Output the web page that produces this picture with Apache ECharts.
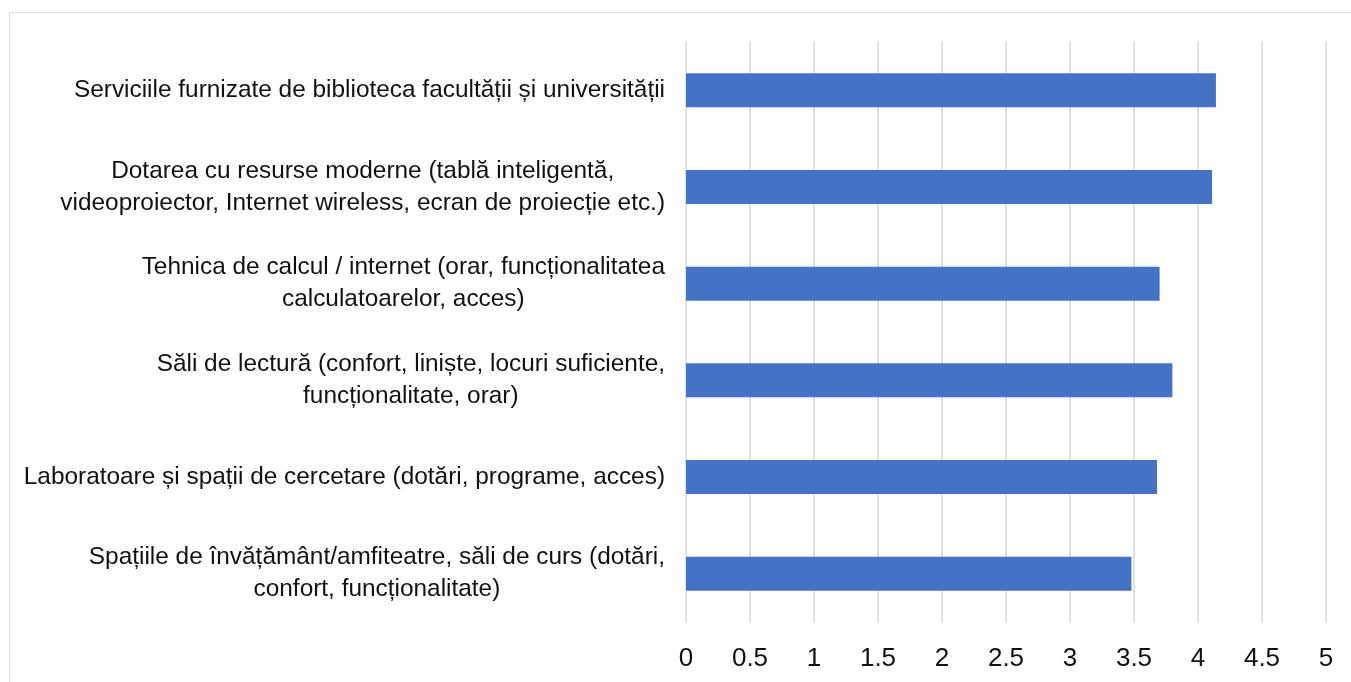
<!DOCTYPE html>
<html>
<head>
<meta charset="utf-8">
<script src="https://cdn.jsdelivr.net/npm/echarts@6/dist/echarts.min.js"></script>
<style>
  html, body { margin: 0; padding: 0; background: #fff; }
  #main { width: 1351px; height: 682px; }
</style>
</head>
<body>
<div id="main"></div>
<script>
// categories, top to bottom as in the picture
var categories = [
  'Serviciile furnizate de biblioteca facultății și universității',
  'Dotarea cu resurse moderne (tablă inteligentă,\nvideoproiector, Internet wireless, ecran de proiecție etc.)',
  'Tehnica de calcul / internet (orar, funcționalitatea\ncalculatoarelor, acces)',
  'Săli de lectură (confort, liniște, locuri suficiente,\nfuncționalitate, orar)',
  'Laboratoare și spații de cercetare (dotări, programe, acces)',
  'Spațiile de învățământ/amfiteatre, săli de curs (dotări,\nconfort, funcționalitate)'
]
var scores = [4.14, 4.11, 3.70, 3.80, 3.68, 3.48]

var font = '"Liberation Sans", Arial, sans-serif'

var myChart = echarts.init(document.getElementById('main'))

myChart.setOption({
  backgroundColor: '#fff',
  animation: false,
  graphic: [
    {
      type: 'rect',
      shape: { x: 9.5, y: 12.5, width: 1400, height: 700 },
      style: { fill: 'none', stroke: '#d9d9d9', lineWidth: 1 },
      silent: true
    }
  ],
  grid: {
    left: 686,
    right: 25,
    top: 42,
    bottom: 60
  },
  xAxis: {
    type: 'value',
    min: 0,
    max: 5,
    interval: 0.5,
    axisLine: { show: false },
    axisTick: { show: false },
    splitLine: { lineStyle: { color: '#d9d9d9', width: 1.5 } },
    axisLabel: {
      margin: 24,
      color: '#111',
      fontFamily: font,
      fontSize: 26
    }
  },
  yAxis: {
    type: 'category',
    data: categories,
    inverse: true,
    axisLine: { show: false },
    axisTick: { show: false },
    axisLabel: {
      margin: 21,
      color: '#111',
      fontFamily: font,
      fontSize: 24.4,
      lineHeight: 32,
      formatter: function (v) {
        // centre every line inside the right-aligned block
        return v.split('\n').map(function (s) { return '{c|' + s + '}' }).join('\n')
      },
      rich: {
        c: {
          align: 'center',
          color: '#111',
          fontFamily: font,
          fontSize: 24.4,
          lineHeight: 32
        }
      }
    }
  },
  series: [
    {
      type: 'bar',
      data: scores,
      barWidth: 34,
      itemStyle: { color: '#4472C4' }
    }
  ]
})
</script>
</body>
</html>
